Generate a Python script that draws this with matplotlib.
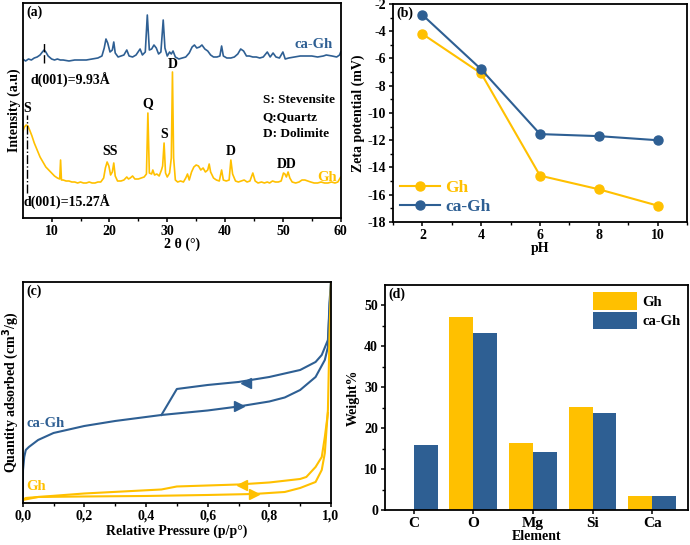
import matplotlib
matplotlib.use("Agg")
import matplotlib.pyplot as plt
import numpy as np

plt.rcParams['font.family'] = ['Liberation Serif', 'DejaVu Serif']
plt.rcParams['font.weight'] = 'bold'
plt.rcParams['axes.labelweight'] = 'bold'
plt.rcParams['font.size'] = 10
plt.rcParams['axes.unicode_minus'] = False
plt.rcParams['axes.linewidth'] = 1.3
plt.rcParams['xtick.major.width'] = 1.1
plt.rcParams['ytick.major.width'] = 1.1
plt.rcParams['xtick.minor.width'] = 1.0
plt.rcParams['ytick.minor.width'] = 1.0

ORANGE = '#FFC000'
BLUE = '#2E5F93'

# --- (a) XRD ---
xrd_gh_2theta = [5.0, 5.3, 5.6, 5.9, 6.2, 6.6, 7.0, 7.5, 8.0, 8.5, 9.0, 9.5, 10.0, 10.5, 11.0, 11.4,
                 11.55, 11.7, 12.0, 12.5, 13.0, 13.5, 14.0, 14.5, 15.0, 15.5, 16.0, 16.5, 17.0, 17.5,
                 18.0, 18.5, 19.0, 19.3, 19.6, 19.9, 20.2, 20.5, 20.75, 21.0, 21.4, 22.0, 22.5, 23.0,
                 23.3, 23.6, 24.0, 24.4, 25.0, 25.5, 26.0, 26.4, 26.65, 26.9, 27.3, 27.5, 27.8, 28.2,
                 28.6, 29.0, 29.2, 29.45, 29.7, 30.0, 30.4, 30.7, 30.9, 31.1, 31.4, 31.8, 32.3, 32.8,
                 33.2, 33.5, 33.8, 34.2, 34.6, 35.0, 35.4, 35.8, 36.2, 36.6, 37.0, 37.25, 37.5, 38.0,
                 38.5, 39.0, 39.4, 39.7, 40.2, 40.7, 41.0, 41.3, 41.8, 42.3, 42.8, 43.3, 43.8, 44.3,
                 44.8, 45.2, 45.7, 46.3, 46.8, 47.3, 47.7, 48.2, 48.7, 49.2, 49.7, 50.1, 50.35, 50.6,
                 50.9, 51.2, 51.6, 52.2, 52.8, 53.3, 53.8, 54.3, 54.8, 55.4, 56.0, 56.6, 57.2, 57.8,
                 58.4, 59.0, 59.5, 60.0]
xrd_gh_int = [86, 91, 93, 92, 88, 82, 75, 68, 61, 56, 51, 48, 45, 42, 40, 39,
              58, 38, 38, 37, 37, 36, 36, 35, 36, 35, 35, 36, 35, 35,
              36, 36, 40, 50, 56, 52, 43, 46, 55, 42, 37, 37, 38, 41,
              39, 40, 42, 39, 39, 40, 41, 44, 105, 45, 44, 48, 43, 44,
              42, 48, 52, 75, 45, 41, 45, 60, 146, 60, 38, 36, 37, 36,
              40, 44, 38, 46, 51, 53, 52, 48, 50, 46, 48, 54, 46, 40,
              38, 37, 48, 38, 37, 38, 58, 44, 37, 36, 37, 38, 36, 37,
              45, 37, 35, 36, 35, 36, 35, 37, 36, 36, 37, 45, 44, 41,
              46, 40, 36, 35, 36, 38, 38, 37, 36, 35, 35, 36, 35, 35,
              36, 35, 36, 41]

xrd_cagh_2theta = [5.0, 5.5, 6.0, 6.5, 7.0, 7.5, 8.0, 8.4, 8.7, 9.0, 9.4, 10.0, 10.5, 11.0, 11.5,
                   12.0, 13.0, 14.0, 15.0, 16.0, 17.0, 18.0, 18.7, 19.1, 19.4, 19.7, 20.1, 20.5,
                   20.75, 21.0, 21.5, 22.0, 22.5, 23.0, 23.4, 24.0, 24.6, 25.3, 25.7, 26.2, 26.55,
                   26.9, 27.3, 27.7, 28.1, 28.5, 28.9, 29.3, 29.6, 30.0, 30.4, 30.7, 31.0, 31.4,
                   32.0, 32.6, 33.2, 33.8, 34.3, 34.7, 35.1, 35.6, 36.0, 36.5, 37.0, 37.5, 38.0,
                   38.6, 39.1, 39.4, 39.7, 40.3, 41.0, 41.6, 42.2, 42.7, 43.2, 43.7, 44.2, 44.8,
                   45.4, 46.0, 46.6, 47.3, 47.8, 48.3, 48.8, 49.4, 50.0, 50.4, 51.0, 52.0, 53.0,
                   54.0, 55.0, 56.0, 57.0, 57.5, 58.5, 59.3, 59.8, 60.0]
xrd_cagh_int = [159, 157, 159, 158, 160, 161, 163, 166, 168, 166, 162, 159, 158, 159, 158,
                158, 157, 158, 158, 158, 159, 160, 162, 170, 179, 175, 166, 168,
                176, 165, 161, 162, 163, 168, 162, 161, 163, 169, 163, 166, 203,
                168, 169, 173, 170, 164, 166, 198, 170, 162, 166, 164, 167, 161,
                159, 160, 161, 165, 171, 173, 170, 171, 173, 169, 167, 163, 161,
                161, 162, 172, 162, 160, 160, 161, 164, 169, 167, 162, 162, 161,
                161, 160, 161, 166, 161, 165, 161, 160, 166, 159, 160, 161, 162,
                162, 162, 161, 162, 163, 162, 161, 163, 166]

# peak labels: (2theta, height, text)
peak_pos = [5.8, 20.1, 26.6, 29.4, 30.9, 41.0, 50.6]
peak_y = [103, 60, 108, 77, 147, 60, 47]
peak_txt = ['S', 'SS', 'Q', 'S', 'D', 'D', 'DD']

# --- (b) zeta potential ---
ph = [2, 4, 6, 8, 10]
zeta_gh = [-4.2, -7.1, -14.6, -15.6, -16.8]
zeta_cagh = [-2.8, -6.8, -11.55, -11.7, -12.0]

# --- (c) N2 isotherms ---
p_ads_cagh = [0.0, 0.001, 0.005, 0.01, 0.02, 0.05, 0.1, 0.2, 0.3, 0.4, 0.45, 0.5, 0.6, 0.7,
              0.8, 0.85, 0.9, 0.95, 0.98, 0.99, 0.995, 1.0]
q_ads_cagh = [0, 33, 46, 53, 56, 63, 70, 77, 82, 86, 88, 89.5, 92.5, 96.5,
              101.5, 105.5, 113, 126, 143, 156, 200, 221]
p_des_cagh = [1.0, 0.99, 0.97, 0.95, 0.9, 0.8, 0.7, 0.6, 0.5, 0.45]
q_des_cagh = [221, 163, 148, 141, 133, 126, 121, 118, 114, 88]

p_ads_gh = [0.0, 0.01, 0.05, 0.2, 0.4, 0.6, 0.75, 0.85, 0.9, 0.95, 0.97, 0.98, 0.99, 0.995, 1.0]
q_ads_gh = [3, 5, 6, 6.5, 7, 8, 9, 11, 15, 21, 33, 50, 93, 166, 221]
p_des_gh = [0.99, 0.98, 0.97, 0.95, 0.92, 0.9, 0.8, 0.7, 0.5, 0.45, 0.2, 0.05, 0.0]
q_des_gh = [90, 66, 46, 36, 26, 24, 20.5, 18.5, 16.5, 13.5, 9.5, 6, 3]

# --- (d) EDS ---
elements = ['C', 'O', 'Mg', 'Si', 'Ca']
wt_gh = [0, 47.3, 16.3, 25.1, 3.5]
wt_cagh = [15.8, 43.2, 14.1, 23.7, 3.5]

fig = plt.figure(figsize=(6.9, 5.45), dpi=100)

# ---------- (a) ----------
ax = fig.add_axes([0.0329, 0.600, 0.4609, 0.3945])
ax.plot(xrd_cagh_2theta, xrd_cagh_int, color=BLUE, lw=1.2)
ax.plot(xrd_gh_2theta, xrd_gh_int, color=ORANGE, lw=1.2)
ax.set_xlim(5, 60)
ax.set_ylim(0, 215)
ax.set_yticks([])
ax.set_xticks([10, 20, 30, 40, 50, 60])
ax.set_xticks([15, 25, 35, 45, 55], minor=True)
ax.tick_params(axis='x', direction='out', length=3, labelsize=10, pad=2)
ax.tick_params(axis='x', which='minor', length=2)
ax.set_xlabel('2 θ (°)', fontsize=10, labelpad=0)
ax.set_ylabel('Intensity (a.u)', fontsize=10, labelpad=1)
ax.text(0.012, 0.99, '(a)', transform=ax.transAxes, ha='left', va='top', fontsize=10)
ax.text(58.6, 173, 'ca-Gh', color=BLUE, ha='right', va='center', fontsize=10.5)
ax.text(59.3, 40, 'Gh', color=ORANGE, ha='right', va='center', fontsize=10.5)
for px, py, t in zip(peak_pos, peak_y, peak_txt):
    ax.text(px, py, t, ha='center', va='bottom', fontsize=10)
# d-spacing markers
ax.plot([8.7, 8.7], [155, 176], color='black', lw=1.0, ls=(0, (6, 2)))
ax.text(6.3, 138, 'd(001)=9.93Å', ha='left', va='center', fontsize=10)
ax.plot([5.8, 5.8], [25, 103], color='black', lw=1.0, ls='-.')
ax.text(5.1, 16, 'd(001)=15.27Å', ha='left', va='center', fontsize=10)
ax.text(46.5, 118, 'S: Stevensite', ha='left', va='center', fontsize=9.5)
ax.text(46.5, 101, 'Q:Quartz', ha='left', va='center', fontsize=9.5)
ax.text(46.5, 84, 'D: Dolimite', ha='left', va='center', fontsize=9.5)

# ---------- (b) ----------
ax = fig.add_axes([0.5696, 0.5927, 0.4261, 0.4])
ax.plot(ph, zeta_gh, color=ORANGE, lw=1.5, marker='o', ms=6.5, label='Gh')
ax.plot(ph, zeta_cagh, color=BLUE, lw=1.5, marker='o', ms=6.5, label='ca-Gh')
ax.set_xlim(1, 11)
ax.set_ylim(-18, -2)
ax.set_xticks(ph)
ax.set_xticks([1, 3, 5, 7, 9, 11], minor=True)
ax.set_yticks(np.arange(-18, -1, 2))
ax.set_yticks(np.arange(-17, -2, 2), minor=True)
ax.tick_params(direction='out', length=3, labelsize=10, pad=2)
ax.tick_params(which='minor', length=2)
ax.set_xlabel('pH', fontsize=10, labelpad=0)
ax.set_ylabel('Zeta potential (mV)', fontsize=10, labelpad=2)
ax.text(0.012, 0.99, '(b)', transform=ax.transAxes, ha='left', va='top', fontsize=10)
leg = ax.legend(loc='lower left', frameon=False, fontsize=12.5, handlelength=2.3,
                borderaxespad=0.0, handletextpad=0.3, labelspacing=0.15)
for txt, col in zip(leg.get_texts(), [ORANGE, BLUE]):
    txt.set_color(col)

# ---------- (c) ----------
ax = fig.add_axes([0.0329, 0.0771, 0.4468, 0.4055])
ax.plot(p_ads_cagh, q_ads_cagh, color=BLUE, lw=1.5)
ax.plot(p_des_cagh, q_des_cagh, color=BLUE, lw=1.5)
ax.plot(p_ads_gh, q_ads_gh, color=ORANGE, lw=1.5)
ax.plot(p_des_gh, q_des_gh, color=ORANGE, lw=1.5)
ax.plot([0.725], [119.7], marker='<', color=BLUE, ms=7)
ax.plot([0.70], [96.5], marker='>', color=BLUE, ms=7)
ax.plot([0.71], [18.3], marker='<', color=ORANGE, ms=7)
ax.plot([0.75], [9.0], marker='>', color=ORANGE, ms=7)
ax.set_xlim(0, 1.0)
ax.set_ylim(0, 221)
ax.set_yticks([])
ax.set_xticks(np.arange(0, 1.01, 0.2))
ax.set_xticks(np.arange(0.1, 1.0, 0.2), minor=True)
ax.set_xticklabels(['0,0', '0,2', '0,4', '0,6', '0,8', '1,0'])
ax.tick_params(axis='x', direction='out', length=3, labelsize=10, pad=2)
ax.tick_params(axis='x', which='minor', length=2)
ax.set_xlabel('Relative Pressure (p/p°)', fontsize=10, labelpad=1)
ax.set_ylabel('Quantity adsorbed (cm$^3$/g)', fontsize=10, labelpad=1)
ax.text(0.012, 0.99, '(c)', transform=ax.transAxes, ha='left', va='top', fontsize=10)
ax.text(0.012, 79, 'ca-Gh', color=BLUE, ha='left', va='center', fontsize=10.5)
ax.text(0.012, 16, 'Gh', color=ORANGE, ha='left', va='center', fontsize=10.5)

# ---------- (d) ----------
ax = fig.add_axes([0.558, 0.0642, 0.4391, 0.4128])
x = np.arange(len(elements))
w = 0.4
ax.bar(x - w / 2, wt_gh, width=w, color=ORANGE, label='Gh')
ax.bar(x + w / 2, wt_cagh, width=w, color=BLUE, label='ca-Gh')
ax.set_xlim(-0.48, 4.6)
ax.set_ylim(0, 55)
ax.set_xticks(x)
ax.set_xticklabels(elements)
ax.set_yticks([0, 10, 20, 30, 40, 50])
ax.set_yticks([5, 15, 25, 35, 45], minor=True)
ax.tick_params(direction='out', length=3, labelsize=10, pad=2)
ax.tick_params(axis='x', labelsize=11)
ax.tick_params(which='minor', length=2)
ax.set_xlabel('Element', fontsize=10, labelpad=0)
ax.set_ylabel('Weight%', fontsize=10, labelpad=3)
ax.text(0.012, 0.99, '(d)', transform=ax.transAxes, ha='left', va='top', fontsize=10)
ax.legend(loc='upper right', frameon=False, fontsize=10.5, handlelength=3.0, handleheight=1.5,
          borderaxespad=0.1, handletextpad=0.4, labelspacing=0.1)

fig.savefig('out.png', dpi=100)
